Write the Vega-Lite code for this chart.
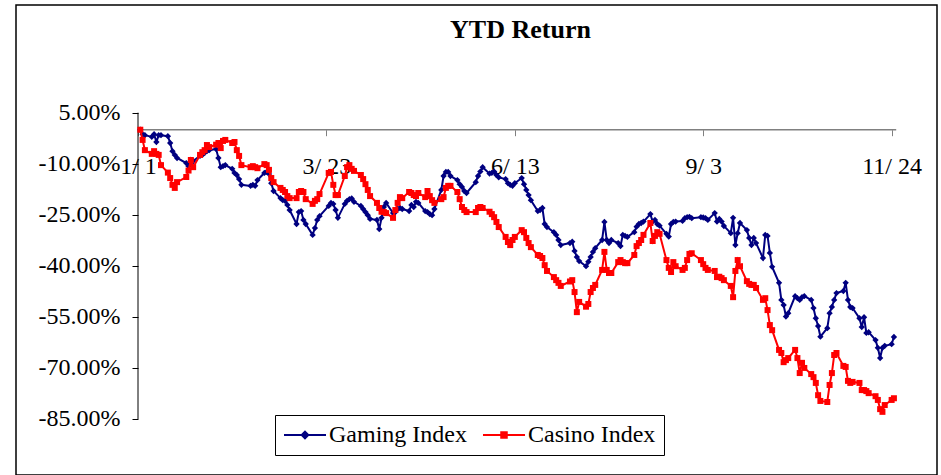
{
  "$schema": "https://vega.github.io/schema/vega-lite/v6.json",
  "width": 921,
  "height": 470,
  "autosize": {"type": "none"},
  "padding": {"left": 16, "top": 5, "right": 4, "bottom": 0},
  "background": "white",
  "config": {
    "view": {"stroke": "black", "strokeWidth": 1.5},
    "font": "Liberation Serif",
    "axisX": {"domain": false, "grid": false, "labelFont": "Liberation Serif", "labelFontSize": 24, "labelColor": "black", "labelBaseline": "middle", "labelPadding": 30.5, "labelFlush": false, "labelOverlap": false, "labelBound": false, "ticks": true, "tickSize": 6, "tickColor": "#808080", "tickWidth": 1, "zindex": 2},
    "axisY": {"domain": false, "grid": false, "labelFont": "Liberation Serif", "labelFontSize": 24, "labelColor": "black", "labelBaseline": "middle", "labelPadding": 12, "labelOverlap": false, "labelBound": false, "ticks": true, "tickSize": 6, "tickColor": "black", "tickWidth": 1, "zindex": 2}
  },
  "title": {"text": "YTD Return", "font": "Liberation Serif", "fontSize": 26, "fontWeight": "bold", "color": "black", "anchor": "middle", "frame": "group", "baseline": "alphabetic", "offset": -58.8, "dx": 44},
  "data": {
    "format": {"parse": {"date": "date:'%Y-%m-%d'"}},
    "values": [
      {"date":"2008-01-02","Gaming Index":0,"Casino Index":0},
      {"date":"2008-01-03","Gaming Index":-1.3,"Casino Index":-3.0},
      {"date":"2008-01-04","Gaming Index":-1.6,"Casino Index":-6.0},
      {"date":"2008-01-07","Gaming Index":-2.1,"Casino Index":-7.1},
      {"date":"2008-01-08","Gaming Index":-1.3,"Casino Index":-6.3},
      {"date":"2008-01-09","Gaming Index":-3.6,"Casino Index":-7.1},
      {"date":"2008-01-10","Gaming Index":-1.6,"Casino Index":-7.4},
      {"date":"2008-01-11","Gaming Index":-1.6,"Casino Index":-10.4},
      {"date":"2008-01-14","Gaming Index":-1.9,"Casino Index":-12.6},
      {"date":"2008-01-15","Gaming Index":-3.9,"Casino Index":-14.2},
      {"date":"2008-01-16","Gaming Index":-6.3,"Casino Index":-16.2},
      {"date":"2008-01-17","Gaming Index":-7.4,"Casino Index":-17.1},
      {"date":"2008-01-18","Gaming Index":-8.3,"Casino Index":-15.4},
      {"date":"2008-01-22","Gaming Index":-9.8,"Casino Index":-13.9},
      {"date":"2008-01-23","Gaming Index":-10.7,"Casino Index":-12.0},
      {"date":"2008-01-24","Gaming Index":-9.8,"Casino Index":-8.9},
      {"date":"2008-01-25","Gaming Index":-9.2,"Casino Index":-11.0},
      {"date":"2008-01-28","Gaming Index":-7.7,"Casino Index":-7.4},
      {"date":"2008-01-29","Gaming Index":-7.4,"Casino Index":-6.6},
      {"date":"2008-01-30","Gaming Index":-6.8,"Casino Index":-6.0},
      {"date":"2008-01-31","Gaming Index":-6.3,"Casino Index":-4.5},
      {"date":"2008-02-01","Gaming Index":-6.0,"Casino Index":-5.1},
      {"date":"2008-02-04","Gaming Index":-5.7,"Casino Index":-4.4},
      {"date":"2008-02-05","Gaming Index":-8.3,"Casino Index":-3.9},
      {"date":"2008-02-06","Gaming Index":-11.0,"Casino Index":-5.4},
      {"date":"2008-02-07","Gaming Index":-10.7,"Casino Index":-3.3},
      {"date":"2008-02-08","Gaming Index":-10.4,"Casino Index":-3.0},
      {"date":"2008-02-11","Gaming Index":-11.5,"Casino Index":-3.9},
      {"date":"2008-02-12","Gaming Index":-12.7,"Casino Index":-3.6},
      {"date":"2008-02-13","Gaming Index":-13.3,"Casino Index":-6.0},
      {"date":"2008-02-14","Gaming Index":-14.5,"Casino Index":-7.7},
      {"date":"2008-02-15","Gaming Index":-16.2,"Casino Index":-10.4},
      {"date":"2008-02-19","Gaming Index":-16.5,"Casino Index":-11.0},
      {"date":"2008-02-20","Gaming Index":-16.2,"Casino Index":-10.7},
      {"date":"2008-02-21","Gaming Index":-16.5,"Casino Index":-11.0},
      {"date":"2008-02-22","Gaming Index":-14.8,"Casino Index":-11.3},
      {"date":"2008-02-25","Gaming Index":-12.7,"Casino Index":-10.1},
      {"date":"2008-02-26","Gaming Index":-12.4,"Casino Index":-10.4},
      {"date":"2008-02-27","Gaming Index":-13.0,"Casino Index":-11.8},
      {"date":"2008-02-28","Gaming Index":-15.7,"Casino Index":-14.2},
      {"date":"2008-02-29","Gaming Index":-18.0,"Casino Index":-15.4},
      {"date":"2008-03-03","Gaming Index":-20.1,"Casino Index":-17.1},
      {"date":"2008-03-04","Gaming Index":-20.7,"Casino Index":-17.7},
      {"date":"2008-03-05","Gaming Index":-20.9,"Casino Index":-18.3},
      {"date":"2008-03-06","Gaming Index":-22.1,"Casino Index":-19.5},
      {"date":"2008-03-07","Gaming Index":-23.6,"Casino Index":-20.1},
      {"date":"2008-03-10","Gaming Index":-27.7,"Casino Index":-20.1},
      {"date":"2008-03-11","Gaming Index":-24.2,"Casino Index":-18.3},
      {"date":"2008-03-12","Gaming Index":-23.9,"Casino Index":-18.0},
      {"date":"2008-03-13","Gaming Index":-26.5,"Casino Index":-18.3},
      {"date":"2008-03-14","Gaming Index":-27.7,"Casino Index":-20.4},
      {"date":"2008-03-17","Gaming Index":-30.9,"Casino Index":-21.8},
      {"date":"2008-03-18","Gaming Index":-28.9,"Casino Index":-20.9},
      {"date":"2008-03-19","Gaming Index":-26.5,"Casino Index":-20.4},
      {"date":"2008-03-20","Gaming Index":-25.4,"Casino Index":-18.9},
      {"date":"2008-03-24","Gaming Index":-22.4,"Casino Index":-12.7},
      {"date":"2008-03-25","Gaming Index":-21.5,"Casino Index":-12.4},
      {"date":"2008-03-26","Gaming Index":-21.8,"Casino Index":-16.2},
      {"date":"2008-03-27","Gaming Index":-23.6,"Casino Index":-19.2},
      {"date":"2008-03-28","Gaming Index":-25.9,"Casino Index":-19.2},
      {"date":"2008-03-31","Gaming Index":-21.8,"Casino Index":-13.6},
      {"date":"2008-04-01","Gaming Index":-20.9,"Casino Index":-11.0},
      {"date":"2008-04-02","Gaming Index":-20.4,"Casino Index":-10.4},
      {"date":"2008-04-03","Gaming Index":-20.2,"Casino Index":-11.5},
      {"date":"2008-04-04","Gaming Index":-21.2,"Casino Index":-12.1},
      {"date":"2008-04-07","Gaming Index":-22.4,"Casino Index":-13.3},
      {"date":"2008-04-08","Gaming Index":-23.3,"Casino Index":-14.5},
      {"date":"2008-04-09","Gaming Index":-24.2,"Casino Index":-16.0},
      {"date":"2008-04-10","Gaming Index":-25.1,"Casino Index":-17.7},
      {"date":"2008-04-11","Gaming Index":-26.2,"Casino Index":-19.5},
      {"date":"2008-04-14","Gaming Index":-26.5,"Casino Index":-21.5},
      {"date":"2008-04-15","Gaming Index":-29.2,"Casino Index":-23.0},
      {"date":"2008-04-16","Gaming Index":-25.9,"Casino Index":-24.1},
      {"date":"2008-04-17","Gaming Index":-22.7,"Casino Index":-24.2},
      {"date":"2008-04-18","Gaming Index":-21.5,"Casino Index":-24.5},
      {"date":"2008-04-21","Gaming Index":-24.5,"Casino Index":-25.9},
      {"date":"2008-04-22","Gaming Index":-24.2,"Casino Index":-23.6},
      {"date":"2008-04-23","Gaming Index":-23.3,"Casino Index":-21.5},
      {"date":"2008-04-24","Gaming Index":-23.0,"Casino Index":-19.8},
      {"date":"2008-04-25","Gaming Index":-23.3,"Casino Index":-20.1},
      {"date":"2008-04-28","Gaming Index":-23.9,"Casino Index":-18.3},
      {"date":"2008-04-29","Gaming Index":-22.1,"Casino Index":-18.6},
      {"date":"2008-04-30","Gaming Index":-22.7,"Casino Index":-19.2},
      {"date":"2008-05-01","Gaming Index":-21.2,"Casino Index":-19.5},
      {"date":"2008-05-02","Gaming Index":-21.5,"Casino Index":-18.6},
      {"date":"2008-05-05","Gaming Index":-23.9,"Casino Index":-19.8},
      {"date":"2008-05-06","Gaming Index":-24.2,"Casino Index":-18.0},
      {"date":"2008-05-07","Gaming Index":-24.8,"Casino Index":-19.5},
      {"date":"2008-05-08","Gaming Index":-25.1,"Casino Index":-20.7},
      {"date":"2008-05-09","Gaming Index":-23.3,"Casino Index":-21.5},
      {"date":"2008-05-12","Gaming Index":-17.7,"Casino Index":-20.4},
      {"date":"2008-05-13","Gaming Index":-13.6,"Casino Index":-19.8},
      {"date":"2008-05-14","Gaming Index":-12.4,"Casino Index":-17.1},
      {"date":"2008-05-15","Gaming Index":-12.4,"Casino Index":-16.5},
      {"date":"2008-05-16","Gaming Index":-13.6,"Casino Index":-16.5},
      {"date":"2008-05-19","Gaming Index":-14.8,"Casino Index":-18.3},
      {"date":"2008-05-20","Gaming Index":-16.0,"Casino Index":-20.4},
      {"date":"2008-05-21","Gaming Index":-16.8,"Casino Index":-22.7},
      {"date":"2008-05-22","Gaming Index":-18.0,"Casino Index":-23.6},
      {"date":"2008-05-23","Gaming Index":-18.6,"Casino Index":-24.2},
      {"date":"2008-05-27","Gaming Index":-15.4,"Casino Index":-24.2},
      {"date":"2008-05-28","Gaming Index":-13.6,"Casino Index":-23.0},
      {"date":"2008-05-29","Gaming Index":-12.3,"Casino Index":-22.7},
      {"date":"2008-05-30","Gaming Index":-11.0,"Casino Index":-23.0},
      {"date":"2008-06-02","Gaming Index":-12.9,"Casino Index":-24.1},
      {"date":"2008-06-03","Gaming Index":-12.7,"Casino Index":-24.8},
      {"date":"2008-06-04","Gaming Index":-12.3,"Casino Index":-25.7},
      {"date":"2008-06-05","Gaming Index":-13.3,"Casino Index":-27.1},
      {"date":"2008-06-06","Gaming Index":-14.0,"Casino Index":-28.6},
      {"date":"2008-06-09","Gaming Index":-14.5,"Casino Index":-31.5},
      {"date":"2008-06-10","Gaming Index":-15.7,"Casino Index":-33.0},
      {"date":"2008-06-11","Gaming Index":-16.2,"Casino Index":-33.9},
      {"date":"2008-06-12","Gaming Index":-16.5,"Casino Index":-32.4},
      {"date":"2008-06-13","Gaming Index":-15.7,"Casino Index":-31.5},
      {"date":"2008-06-16","Gaming Index":-14.2,"Casino Index":-29.5},
      {"date":"2008-06-17","Gaming Index":-16.0,"Casino Index":-30.1},
      {"date":"2008-06-18","Gaming Index":-17.7,"Casino Index":-31.8},
      {"date":"2008-06-19","Gaming Index":-19.2,"Casino Index":-33.3},
      {"date":"2008-06-20","Gaming Index":-20.7,"Casino Index":-34.5},
      {"date":"2008-06-23","Gaming Index":-23.9,"Casino Index":-36.8},
      {"date":"2008-06-24","Gaming Index":-23.6,"Casino Index":-37.1},
      {"date":"2008-06-25","Gaming Index":-23.0,"Casino Index":-37.7},
      {"date":"2008-06-26","Gaming Index":-27.7,"Casino Index":-39.8},
      {"date":"2008-06-27","Gaming Index":-28.6,"Casino Index":-41.5},
      {"date":"2008-06-30","Gaming Index":-30.1,"Casino Index":-43.3},
      {"date":"2008-07-01","Gaming Index":-30.9,"Casino Index":-44.2},
      {"date":"2008-07-02","Gaming Index":-32.4,"Casino Index":-45.0},
      {"date":"2008-07-03","Gaming Index":-33.9,"Casino Index":-45.9},
      {"date":"2008-07-07","Gaming Index":-33.3,"Casino Index":-44.6},
      {"date":"2008-07-08","Gaming Index":-32.9,"Casino Index":-44.2},
      {"date":"2008-07-09","Gaming Index":-35.6,"Casino Index":-47.7},
      {"date":"2008-07-10","Gaming Index":-37.4,"Casino Index":-53.6},
      {"date":"2008-07-11","Gaming Index":-38.6,"Casino Index":-50.6},
      {"date":"2008-07-14","Gaming Index":-40.1,"Casino Index":-52.0},
      {"date":"2008-07-15","Gaming Index":-38.8,"Casino Index":-51.2},
      {"date":"2008-07-16","Gaming Index":-37.4,"Casino Index":-47.7},
      {"date":"2008-07-17","Gaming Index":-35.9,"Casino Index":-46.5},
      {"date":"2008-07-18","Gaming Index":-34.8,"Casino Index":-45.6},
      {"date":"2008-07-21","Gaming Index":-32.4,"Casino Index":-41.2},
      {"date":"2008-07-22","Gaming Index":-27.1,"Casino Index":-35.9},
      {"date":"2008-07-23","Gaming Index":-32.4,"Casino Index":-41.2},
      {"date":"2008-07-24","Gaming Index":-33.3,"Casino Index":-42.1},
      {"date":"2008-07-25","Gaming Index":-32.4,"Casino Index":-42.1},
      {"date":"2008-07-28","Gaming Index":-33.3,"Casino Index":-38.9},
      {"date":"2008-07-29","Gaming Index":-34.2,"Casino Index":-38.3},
      {"date":"2008-07-30","Gaming Index":-30.9,"Casino Index":-38.9},
      {"date":"2008-07-31","Gaming Index":-31.2,"Casino Index":-39.2},
      {"date":"2008-08-01","Gaming Index":-31.5,"Casino Index":-39.2},
      {"date":"2008-08-04","Gaming Index":-30.1,"Casino Index":-36.8},
      {"date":"2008-08-05","Gaming Index":-28.5,"Casino Index":-34.2},
      {"date":"2008-08-06","Gaming Index":-27.7,"Casino Index":-33.3},
      {"date":"2008-08-07","Gaming Index":-27.4,"Casino Index":-32.4},
      {"date":"2008-08-08","Gaming Index":-27.0,"Casino Index":-30.9},
      {"date":"2008-08-11","Gaming Index":-24.8,"Casino Index":-27.4},
      {"date":"2008-08-12","Gaming Index":-27.0,"Casino Index":-32.7},
      {"date":"2008-08-13","Gaming Index":-26.5,"Casino Index":-31.2},
      {"date":"2008-08-14","Gaming Index":-27.7,"Casino Index":-30.1},
      {"date":"2008-08-15","Gaming Index":-28.2,"Casino Index":-30.6},
      {"date":"2008-08-18","Gaming Index":-30.6,"Casino Index":-38.3},
      {"date":"2008-08-19","Gaming Index":-31.4,"Casino Index":-40.6},
      {"date":"2008-08-20","Gaming Index":-27.7,"Casino Index":-41.8},
      {"date":"2008-08-21","Gaming Index":-27.1,"Casino Index":-38.9},
      {"date":"2008-08-22","Gaming Index":-27.0,"Casino Index":-40.1},
      {"date":"2008-08-25","Gaming Index":-26.8,"Casino Index":-41.2},
      {"date":"2008-08-26","Gaming Index":-26.0,"Casino Index":-40.6},
      {"date":"2008-08-27","Gaming Index":-25.7,"Casino Index":-38.3},
      {"date":"2008-08-28","Gaming Index":-25.6,"Casino Index":-36.5},
      {"date":"2008-08-29","Gaming Index":-26.0,"Casino Index":-36.3},
      {"date":"2008-09-02","Gaming Index":-25.7,"Casino Index":-38.3},
      {"date":"2008-09-03","Gaming Index":-25.8,"Casino Index":-39.5},
      {"date":"2008-09-04","Gaming Index":-26.0,"Casino Index":-40.6},
      {"date":"2008-09-05","Gaming Index":-26.5,"Casino Index":-41.2},
      {"date":"2008-09-08","Gaming Index":-24.5,"Casino Index":-41.5},
      {"date":"2008-09-09","Gaming Index":-27.0,"Casino Index":-43.3},
      {"date":"2008-09-10","Gaming Index":-26.2,"Casino Index":-43.2},
      {"date":"2008-09-11","Gaming Index":-27.0,"Casino Index":-43.6},
      {"date":"2008-09-12","Gaming Index":-28.3,"Casino Index":-44.2},
      {"date":"2008-09-15","Gaming Index":-30.4,"Casino Index":-45.9},
      {"date":"2008-09-16","Gaming Index":-25.9,"Casino Index":-49.2},
      {"date":"2008-09-17","Gaming Index":-33.9,"Casino Index":-41.5},
      {"date":"2008-09-18","Gaming Index":-30.4,"Casino Index":-38.3},
      {"date":"2008-09-19","Gaming Index":-27.4,"Casino Index":-40.1},
      {"date":"2008-09-22","Gaming Index":-29.5,"Casino Index":-44.5},
      {"date":"2008-09-23","Gaming Index":-31.8,"Casino Index":-45.3},
      {"date":"2008-09-24","Gaming Index":-33.9,"Casino Index":-45.6},
      {"date":"2008-09-25","Gaming Index":-31.8,"Casino Index":-45.6},
      {"date":"2008-09-26","Gaming Index":-33.3,"Casino Index":-46.5},
      {"date":"2008-09-29","Gaming Index":-37.7,"Casino Index":-50.0},
      {"date":"2008-09-30","Gaming Index":-30.9,"Casino Index":-49.5},
      {"date":"2008-10-01","Gaming Index":-31.2,"Casino Index":-53.0},
      {"date":"2008-10-02","Gaming Index":-36.2,"Casino Index":-57.4},
      {"date":"2008-10-03","Gaming Index":-40.3,"Casino Index":-58.9},
      {"date":"2008-10-06","Gaming Index":-45.0,"Casino Index":-64.7},
      {"date":"2008-10-07","Gaming Index":-50.0,"Casino Index":-65.6},
      {"date":"2008-10-08","Gaming Index":-51.5,"Casino Index":-68.3},
      {"date":"2008-10-09","Gaming Index":-54.9,"Casino Index":-67.7},
      {"date":"2008-10-10","Gaming Index":-53.9,"Casino Index":-67.1},
      {"date":"2008-10-13","Gaming Index":-48.9,"Casino Index":-64.7},
      {"date":"2008-10-14","Gaming Index":-49.5,"Casino Index":-67.1},
      {"date":"2008-10-15","Gaming Index":-50.0,"Casino Index":-71.5},
      {"date":"2008-10-16","Gaming Index":-49.2,"Casino Index":-68.5},
      {"date":"2008-10-17","Gaming Index":-48.9,"Casino Index":-70.0},
      {"date":"2008-10-20","Gaming Index":-50.0,"Casino Index":-71.8},
      {"date":"2008-10-21","Gaming Index":-52.4,"Casino Index":-72.7},
      {"date":"2008-10-22","Gaming Index":-55.4,"Casino Index":-74.4},
      {"date":"2008-10-23","Gaming Index":-57.7,"Casino Index":-78.0},
      {"date":"2008-10-24","Gaming Index":-60.8,"Casino Index":-79.7},
      {"date":"2008-10-27","Gaming Index":-58.3,"Casino Index":-80.0},
      {"date":"2008-10-28","Gaming Index":-53.9,"Casino Index":-75.0},
      {"date":"2008-10-29","Gaming Index":-52.1,"Casino Index":-71.5},
      {"date":"2008-10-30","Gaming Index":-50.0,"Casino Index":-66.2},
      {"date":"2008-10-31","Gaming Index":-48.0,"Casino Index":-65.6},
      {"date":"2008-11-03","Gaming Index":-47.4,"Casino Index":-69.4},
      {"date":"2008-11-04","Gaming Index":-45.0,"Casino Index":-69.7},
      {"date":"2008-11-05","Gaming Index":-50.0,"Casino Index":-73.8},
      {"date":"2008-11-06","Gaming Index":-52.1,"Casino Index":-74.4},
      {"date":"2008-11-07","Gaming Index":-52.4,"Casino Index":-74.1},
      {"date":"2008-11-10","Gaming Index":-55.4,"Casino Index":-74.4},
      {"date":"2008-11-11","Gaming Index":-58.0,"Casino Index":-76.5},
      {"date":"2008-11-12","Gaming Index":-55.1,"Casino Index":-76.5},
      {"date":"2008-11-13","Gaming Index":-59.7,"Casino Index":-76.8},
      {"date":"2008-11-14","Gaming Index":-59.5,"Casino Index":-77.4},
      {"date":"2008-11-17","Gaming Index":-61.8,"Casino Index":-78.3},
      {"date":"2008-11-18","Gaming Index":-64.1,"Casino Index":-79.4},
      {"date":"2008-11-19","Gaming Index":-67.1,"Casino Index":-82.1},
      {"date":"2008-11-20","Gaming Index":-64.1,"Casino Index":-82.9},
      {"date":"2008-11-21","Gaming Index":-63.5,"Casino Index":-80.9},
      {"date":"2008-11-24","Gaming Index":-63.0,"Casino Index":-79.4},
      {"date":"2008-11-25","Gaming Index":-60.9,"Casino Index":-78.9}
    ]
  },
  "layer": [
    {
      "data": {"values": [{}]},
      "mark": {"type": "rule", "color": "#808080", "strokeWidth": 1.5},
      "encoding": {
        "x": {"datum": {"year": 2008, "month": 1, "date": 1}, "type": "temporal",
              "scale": {"domain": [{"year": 2007, "month": 11, "date": 8, "hours": 21, "minutes": 36}, {"year": 2008, "month": 12, "date": 13, "hours": 18}]},
              "axis": {"title": null, "offset": -345.3, "format": "%-m/ %-d", "values": [{"year": 2008, "month": 1, "date": 1}, {"year": 2008, "month": 3, "date": 23}, {"year": 2008, "month": 6, "date": 13}, {"year": 2008, "month": 9, "date": 3}, {"year": 2008, "month": 11, "date": 24}]}},
        "x2": {"datum": {"year": 2008, "month": 11, "date": 26}},
        "y": {"datum": 0, "type": "quantitative", "scale": {"domain": [-101.455, 36.646], "nice": false, "zero": false},
              "axis": {"title": null, "offset": -122, "values": [5, -10, -25, -40, -55, -70, -85], "labelExpr": "(datum.value < 0 ? '-' : '') + format(abs(datum.value), '.2f') + '%'"}}
      }
    },
    {
      "data": {"values": [{}]},
      "mark": {"type": "rule", "color": "black", "strokeWidth": 1},
      "encoding": {
        "x": {"datum": {"year": 2008, "month": 1, "date": 1}, "type": "temporal",
              "scale": {"domain": [{"year": 2007, "month": 11, "date": 8, "hours": 21, "minutes": 36}, {"year": 2008, "month": 12, "date": 13, "hours": 18}]},
              "axis": {"title": null, "offset": -345.3, "format": "%-m/ %-d", "values": [{"year": 2008, "month": 1, "date": 1}, {"year": 2008, "month": 3, "date": 23}, {"year": 2008, "month": 6, "date": 13}, {"year": 2008, "month": 9, "date": 3}, {"year": 2008, "month": 11, "date": 24}]}},
        "y": {"datum": 5, "type": "quantitative", "scale": {"domain": [-101.455, 36.646], "nice": false, "zero": false},
              "axis": {"title": null, "offset": -122, "values": [5, -10, -25, -40, -55, -70, -85], "labelExpr": "(datum.value < 0 ? '-' : '') + format(abs(datum.value), '.2f') + '%'"}},
        "y2": {"datum": -85}
      }
    },
    {
      "transform": [{"fold": ["Gaming Index", "Casino Index"], "as": ["series", "ret"]}, {"filter": "datum.series == 'Gaming Index'"}],
      "mark": {"type": "line", "strokeWidth": 2},
      "encoding": {
        "x": {"field": "date", "type": "temporal",
              "scale": {"domain": [{"year": 2007, "month": 11, "date": 8, "hours": 21, "minutes": 36}, {"year": 2008, "month": 12, "date": 13, "hours": 18}]},
              "axis": {"title": null, "offset": -345.3, "format": "%-m/ %-d", "values": [{"year": 2008, "month": 1, "date": 1}, {"year": 2008, "month": 3, "date": 23}, {"year": 2008, "month": 6, "date": 13}, {"year": 2008, "month": 9, "date": 3}, {"year": 2008, "month": 11, "date": 24}]}},
        "y": {"field": "ret", "type": "quantitative", "scale": {"domain": [-101.455, 36.646], "nice": false, "zero": false},
              "axis": {"title": null, "offset": -122, "values": [5, -10, -25, -40, -55, -70, -85], "labelExpr": "(datum.value < 0 ? '-' : '') + format(abs(datum.value), '.2f') + '%'"}},
        "color": {"field": "series", "type": "nominal",
                  "scale": {"domain": ["Gaming Index", "Casino Index"], "range": ["#000080", "#FF0000"]},
                  "legend": {"title": null, "orient": "none", "legendX": 259, "legendY": 410, "direction": "horizontal",
                             "strokeColor": "black", "fillColor": "white", "padding": 8, "columnPadding": 11,
                             "labelFont": "Liberation Serif", "labelFontSize": 24, "labelColor": "black", "labelOffset": 12,
                             "symbolSize": 484, "symbolOffset": 10, "symbolStrokeWidth": 2,
                             "encode": {"symbols": {"update": {
                               "shape": {"signal": "datum.value == 'Gaming Index' ? 'M-1.91,0H1.91M0,-0.3L0.3,0L0,0.3L-0.3,0Z' : 'M-1.91,0H1.91M-0.25,-0.25H0.25V0.25H-0.25Z'"},
                               "fill": {"signal": "datum.value == 'Gaming Index' ? '#000080' : '#FF0000'"},
                               "stroke": {"signal": "datum.value == 'Gaming Index' ? '#000080' : '#FF0000'"},
                               "strokeWidth": {"value": 2}
                             }}}}}
      }
    },
    {
      "transform": [{"fold": ["Gaming Index", "Casino Index"], "as": ["series", "ret"]}, {"filter": "datum.series == 'Gaming Index'"}],
      "mark": {"type": "point", "shape": "diamond", "filled": true, "color": "#000080", "size": 40, "opacity": 1},
      "encoding": {
        "x": {"field": "date", "type": "temporal",
              "scale": {"domain": [{"year": 2007, "month": 11, "date": 8, "hours": 21, "minutes": 36}, {"year": 2008, "month": 12, "date": 13, "hours": 18}]},
              "axis": {"title": null, "offset": -345.3, "format": "%-m/ %-d", "values": [{"year": 2008, "month": 1, "date": 1}, {"year": 2008, "month": 3, "date": 23}, {"year": 2008, "month": 6, "date": 13}, {"year": 2008, "month": 9, "date": 3}, {"year": 2008, "month": 11, "date": 24}]}},
        "y": {"field": "ret", "type": "quantitative", "scale": {"domain": [-101.455, 36.646], "nice": false, "zero": false},
              "axis": {"title": null, "offset": -122, "values": [5, -10, -25, -40, -55, -70, -85], "labelExpr": "(datum.value < 0 ? '-' : '') + format(abs(datum.value), '.2f') + '%'"}}
      }
    },
    {
      "transform": [{"fold": ["Gaming Index", "Casino Index"], "as": ["series", "ret"]}, {"filter": "datum.series == 'Casino Index'"}],
      "mark": {"type": "line", "strokeWidth": 2},
      "encoding": {
        "x": {"field": "date", "type": "temporal",
              "scale": {"domain": [{"year": 2007, "month": 11, "date": 8, "hours": 21, "minutes": 36}, {"year": 2008, "month": 12, "date": 13, "hours": 18}]},
              "axis": {"title": null, "offset": -345.3, "format": "%-m/ %-d", "values": [{"year": 2008, "month": 1, "date": 1}, {"year": 2008, "month": 3, "date": 23}, {"year": 2008, "month": 6, "date": 13}, {"year": 2008, "month": 9, "date": 3}, {"year": 2008, "month": 11, "date": 24}]}},
        "y": {"field": "ret", "type": "quantitative", "scale": {"domain": [-101.455, 36.646], "nice": false, "zero": false},
              "axis": {"title": null, "offset": -122, "values": [5, -10, -25, -40, -55, -70, -85], "labelExpr": "(datum.value < 0 ? '-' : '') + format(abs(datum.value), '.2f') + '%'"}},
        "color": {"field": "series", "type": "nominal", "legend": null,
                  "scale": {"domain": ["Gaming Index", "Casino Index"], "range": ["#000080", "#FF0000"]}}
      }
    },
    {
      "transform": [{"fold": ["Gaming Index", "Casino Index"], "as": ["series", "ret"]}, {"filter": "datum.series == 'Casino Index'"}],
      "mark": {"type": "point", "shape": "square", "filled": true, "color": "#FF0000", "size": 36, "opacity": 1},
      "encoding": {
        "x": {"field": "date", "type": "temporal",
              "scale": {"domain": [{"year": 2007, "month": 11, "date": 8, "hours": 21, "minutes": 36}, {"year": 2008, "month": 12, "date": 13, "hours": 18}]},
              "axis": {"title": null, "offset": -345.3, "format": "%-m/ %-d", "values": [{"year": 2008, "month": 1, "date": 1}, {"year": 2008, "month": 3, "date": 23}, {"year": 2008, "month": 6, "date": 13}, {"year": 2008, "month": 9, "date": 3}, {"year": 2008, "month": 11, "date": 24}]}},
        "y": {"field": "ret", "type": "quantitative", "scale": {"domain": [-101.455, 36.646], "nice": false, "zero": false},
              "axis": {"title": null, "offset": -122, "values": [5, -10, -25, -40, -55, -70, -85], "labelExpr": "(datum.value < 0 ? '-' : '') + format(abs(datum.value), '.2f') + '%'"}}
      }
    }
  ]
}
